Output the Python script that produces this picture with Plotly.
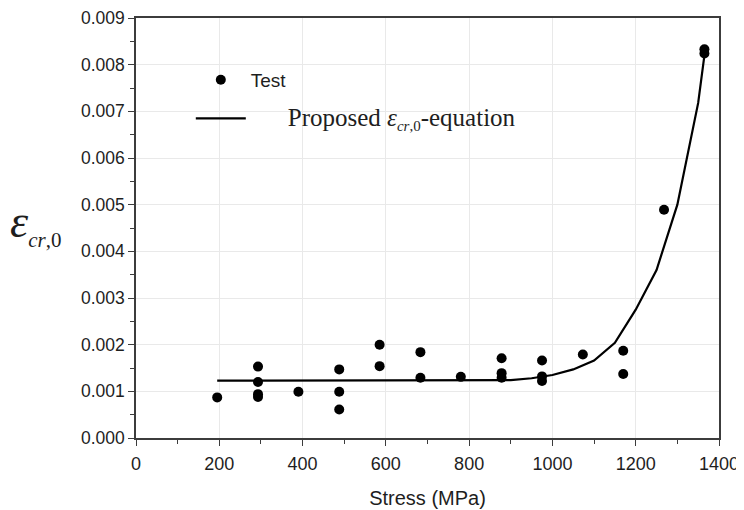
import plotly.graph_objects as go

# Test data: stress (MPa) and epsilon_cr,0
test_stress = [195, 293, 293, 293, 293, 390, 488, 488, 488, 585, 585, 683, 683,
               780, 878, 878, 878, 975, 975, 975, 1073, 1170, 1170, 1268, 1365, 1365]
test_eps = [0.00087, 0.00153, 0.00120, 0.00094, 0.00088, 0.00099, 0.00147, 0.00099, 0.00061,
            0.00200, 0.00154, 0.00184, 0.00129,
            0.00131, 0.00171, 0.00139, 0.00129, 0.00166, 0.00132, 0.00122, 0.00179,
            0.00187, 0.00137, 0.00489, 0.00833, 0.00824]

# Proposed equation curve
eq_stress = [195, 300, 400, 500, 600, 700, 800, 900, 950, 1000, 1050, 1100, 1150,
             1200, 1250, 1300, 1350, 1365]
eq_eps = [0.00123, 0.00123, 0.00123, 0.00123, 0.00123, 0.00123, 0.00123, 0.00124, 0.00128,
          0.00135, 0.00147, 0.00166, 0.00204, 0.00275, 0.00360, 0.00500, 0.00718, 0.00820]

x_ticks = [0, 200, 400, 600, 800, 1000, 1200, 1400]
y_ticks = [0.000, 0.001, 0.002, 0.003, 0.004, 0.005, 0.006, 0.007, 0.008, 0.009]

AX = "#3c3c3c"
GRID = "#e9e9e9"
SANS = "Liberation Sans, Arial, sans-serif"
SERIF = "Liberation Serif, Times New Roman, serif"

fig = go.Figure()
fig.add_trace(go.Scatter(
    x=test_stress, y=test_eps, mode="markers", name="Test",
    marker=dict(color="black", size=10, line=dict(width=0)),
    legendgroup="a"))
fig.add_trace(go.Scatter(
    x=eq_stress, y=eq_eps, mode="lines",
    name=("\u00a0" * 7 + "<span style='font-family:Liberation Serif, Times New Roman, serif;font-size:25px'>"
          "Proposed <i>ε</i><sub><span style='font-size:15px'><i>cr</i>,0</span></sub>-equation</span>"),
    line=dict(color="black", width=2.2),
    legendgroup="b"))

fig.update_xaxes(
    range=[0, 1400], tickvals=x_ticks, ticktext=[str(v) for v in x_ticks],
    showgrid=True, gridcolor=GRID, gridwidth=1, automargin=False,
    showline=True, linecolor=AX, linewidth=1.5, mirror=True,
    ticks="outside", ticklen=6, tickcolor=AX, tickwidth=1.2, ticklabelstandoff=3,
    minor=dict(dtick=100, ticks="outside", ticklen=4, tickcolor=AX, tickwidth=1.2, showgrid=False),
    tickfont=dict(family=SANS, size=18, color="#1e1e1e"),
    title=dict(text="Stress (MPa)", font=dict(family=SANS, size=20, color="#1e1e1e"), standoff=18),
    zeroline=False,
)
fig.update_yaxes(
    range=[0, 0.009], tickvals=y_ticks, ticktext=[f"{v:.3f}" for v in y_ticks],
    showgrid=True, gridcolor=GRID, gridwidth=1, automargin=False,
    showline=True, linecolor=AX, linewidth=1.5, mirror=True,
    ticks="outside", ticklen=6, tickcolor=AX, tickwidth=1.2,
    minor=dict(dtick=0.0005, ticks="outside", ticklen=4, tickcolor=AX, tickwidth=1.2, showgrid=False),
    tickfont=dict(family=SANS, size=17.5, color="#1e1e1e"),
    zeroline=False,
)

fig.add_annotation(
    xref="paper", yref="paper", x=-0.125, y=0.51, xanchor="right", yanchor="middle",
    text="<i>ε</i><sub><span style='font-size:21px'><i>cr</i>,0</span></sub>",
    showarrow=False, font=dict(family=SERIF, size=46, color="#1e1e1e"))

fig.update_layout(
    width=736, height=502,
    margin=dict(l=128, r=25, t=10, b=72),
    paper_bgcolor="white", plot_bgcolor="white",
    showlegend=True,
    legend=dict(x=0.094, y=0.898, xanchor="left", yanchor="top",
                bgcolor="rgba(0,0,0,0)", borderwidth=0,
                font=dict(family=SANS, size=19, color="#1e1e1e"),
                itemwidth=50, tracegroupgap=11),
)

fig.write_html("out.html")
